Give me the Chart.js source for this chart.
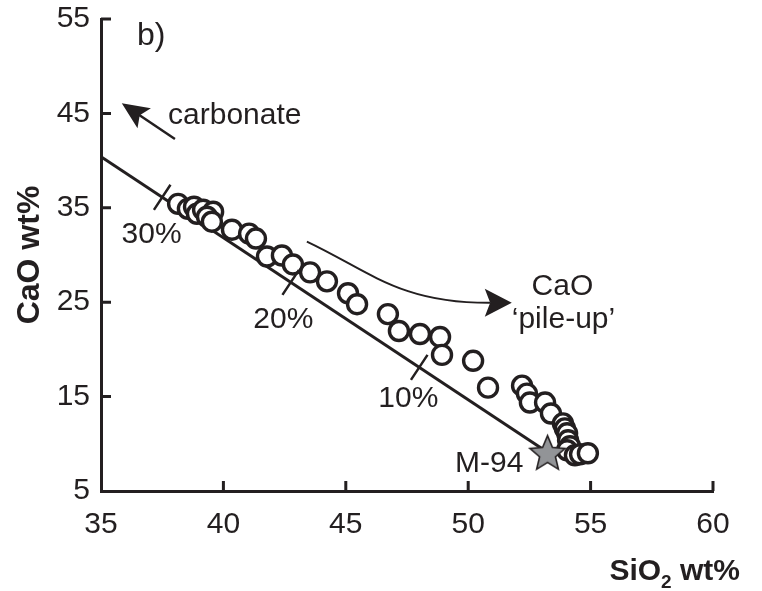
<!DOCTYPE html>
<html><head><meta charset="utf-8">
<script src="https://cdn.jsdelivr.net/npm/chart.js@4/dist/chart.umd.min.js"></script>
<style>html,body{margin:0;padding:0;background:#fff}#wrap{width:762px;height:591px}</style>
</head><body><div id="wrap"><canvas id="c" width="762" height="591"></canvas></div>
<script>
// ---- data ----
const sampleSiO2 = [38.15,38.55,38.80,38.92,39.17,39.58,39.33,39.53,40.35,41.05,41.33,41.78,42.39,42.84,43.54,44.23,45.09,45.46,46.72,47.17,48.03,48.85,48.93,50.20,50.81,52.20,52.40,52.52,53.14,53.38,53.87,53.95,54.04,54.08,54.16,54.04,54.36,54.57,54.89];
const sampleCaO  = [35.42,34.89,35.11,34.37,34.79,34.58,34.05,33.53,32.68,32.26,31.74,29.84,29.95,29.00,28.16,27.21,25.95,24.79,23.74,21.95,21.63,21.32,19.42,18.79,15.95,16.16,15.32,14.37,14.37,13.21,12.16,11.63,11.11,10.37,9.74,9.32,8.79,8.89,9.00];
const m94SiO2 = [53.24];
const m94CaO = [9.1];
const mixLineSiO2 = [35, 53.24];
const mixLineCaO = [40.4, 9.1];
const mixTickSiO2 = [37.5, 42.75, 48.0];
const mixTickLabels = ['30%', '20%', '10%'];
const xTickValues = [35, 40, 45, 50, 55, 60];
const yTickValues = [5, 15, 25, 35, 45, 55];

const INK = '#231f20';

// star point style
function makeStar(R) {
  const s = Math.ceil(R * 2 + 4);
  const cv = document.createElement('canvas');
  cv.width = s; cv.height = s;
  const c = cv.getContext('2d');
  const cx = s / 2, cy = s / 2 + R * 0.1;
  c.beginPath();
  for (let i = 0; i < 10; i++) {
    const r = i % 2 === 0 ? R : R * 0.45;
    const a = -Math.PI / 2 + i * Math.PI / 5;
    const px = cx + r * Math.cos(a), py = cy + r * Math.sin(a);
    i === 0 ? c.moveTo(px, py) : c.lineTo(px, py);
  }
  c.closePath();
  c.fillStyle = '#929497';
  c.fill();
  c.lineWidth = 1.6;
  c.strokeStyle = INK;
  c.stroke();
  return cv;
}
const starImg = makeStar(18.5);

const annotations = [
  {text: 'b)', x: 36.47, y: 52.2},
  {text: 'carbonate', x: 37.74, y: 43.87},
  {text: 'M-94', x: 49.46, y: 7.0},
  {text: 'CaO', x: 52.59, y: 25.81},
  {text: '\u2018pile-up\u2019', x: 51.78, y: 22.29}
];
const tickLabelPos = [
  {x: 35.84, y: 31.24},
  {x: 41.22, y: 22.3},
  {x: 46.33, y: 13.87}
];

function arrowHead(ctx, tipX, tipY, fromX, fromY, len, half) {
  const a = Math.atan2(tipY - fromY, tipX - fromX);
  ctx.beginPath();
  ctx.moveTo(tipX, tipY);
  ctx.lineTo(tipX - len * Math.cos(a) + half * Math.sin(a), tipY - len * Math.sin(a) - half * Math.cos(a));
  ctx.lineTo(tipX - len * 0.8 * Math.cos(a), tipY - len * 0.8 * Math.sin(a));
  ctx.lineTo(tipX - len * Math.cos(a) - half * Math.sin(a), tipY - len * Math.sin(a) + half * Math.cos(a));
  ctx.closePath();
  ctx.fill();
}

const decor = {
  id: 'decor',
  afterDatasetsDraw(chart) {
    const {ctx, chartArea, scales: {x, y}} = chart;
    const X = v => x.getPixelForValue(v), Y = v => y.getPixelForValue(v);
    ctx.save();
    ctx.strokeStyle = INK; ctx.fillStyle = INK;
    // inward axis ticks
    ctx.lineWidth = 3;
    ctx.beginPath();
    x.ticks.forEach(t => { if (t.value === x.min) return; const px = X(t.value); ctx.moveTo(px, chartArea.bottom); ctx.lineTo(px, chartArea.bottom - 10); });
    y.ticks.forEach(t => { if (t.value === y.min) return; const py = Y(t.value); ctx.moveTo(chartArea.left, py); ctx.lineTo(chartArea.left + 10, py); });
    ctx.stroke();
    // mixing-line tick marks
    const x0 = X(mixLineSiO2[0]), y0 = Y(mixLineCaO[0]), x1 = X(mixLineSiO2[1]), y1 = Y(mixLineCaO[1]);
    const dx = x1 - x0, dy = y1 - y0, L = Math.hypot(dx, dy);
    const nx = dy / L, ny = -dx / L;
    ctx.lineWidth = 2.5;
    ctx.beginPath();
    mixTickSiO2.forEach(v => {
      const t = (X(v) - x0) / dx;
      const px = x0 + dx * t, py = y0 + dy * t;
      ctx.moveTo(px - nx * 15, py - ny * 15);
      ctx.lineTo(px + nx * 15, py + ny * 15);
    });
    ctx.stroke();
    // carbonate arrow
    const tx = X(35.85), ty = Y(46.08), fx = X(38.02), fy = Y(42.29);
    ctx.lineWidth = 2.5;
    ctx.beginPath(); ctx.moveTo(fx, fy); ctx.lineTo(tx + (fx - tx) * 0.3, ty + (fy - ty) * 0.3); ctx.stroke();
    arrowHead(ctx, tx, ty, fx, fy, 27, 12);
    // pile-up curved arrow
    ctx.lineWidth = 2;
    ctx.beginPath();
    ctx.moveTo(X(43.41), Y(31.42));
    ctx.bezierCurveTo(X(45.99), Y(28.26), X(47.21), Y(24.89), X(50.89), Y(24.93));
    ctx.stroke();
    arrowHead(ctx, X(51.78), Y(24.93), X(50.5), Y(24.93), 27, 14);
    // texts
    ctx.textBaseline = 'alphabetic'; ctx.textAlign = 'left';
    annotations.forEach(a => {
      ctx.font = (a.text === 'b)' ? '32px' : '30px') + ' "Liberation Sans", Arial, sans-serif';
      ctx.fillText(a.text, X(a.x), Y(a.y));
    });
    ctx.font = '30px "Liberation Sans", Arial, sans-serif';
    mixTickLabels.forEach((s, i) => ctx.fillText(s, X(tickLabelPos[i].x), Y(tickLabelPos[i].y)));
    // x axis title with subscript
    const parts = [['SiO', 'bold 30px "Liberation Sans", Arial, sans-serif', 0], ['2', 'bold 19px "Liberation Sans", Arial, sans-serif', 8], [' wt%', 'bold 30px "Liberation Sans", Arial, sans-serif', 0]];
    let total = 0;
    parts.forEach(p => { ctx.font = p[1]; total += ctx.measureText(p[0]).width; });
    let cx = 740 - total; const base = 580;
    parts.forEach(p => { ctx.font = p[1]; ctx.fillText(p[0], cx, base + p[2]); cx += ctx.measureText(p[0]).width; });
    ctx.restore();
  }
};

const tickFont = {family: '"Liberation Sans", Arial, sans-serif', size: 30, lineHeight: 1.0};

new Chart(document.getElementById('c'), {
  type: 'scatter',
  data: {
    datasets: [
      {label: 'M-94', data: m94SiO2.map((v, i) => ({x: v, y: m94CaO[i]})), pointStyle: starImg, pointRadius: 18, order: 0},
      {label: 'Samples', data: sampleSiO2.map((v, i) => ({x: v, y: sampleCaO[i]})), pointStyle: 'circle', pointRadius: 9.5, borderWidth: 3.4, borderColor: INK, backgroundColor: '#fff', order: 1},
      {label: 'Mixing line', type: 'line', data: mixLineSiO2.map((v, i) => ({x: v, y: mixLineCaO[i]})), borderColor: INK, borderWidth: 3, pointRadius: 0, fill: false, order: 2}
    ]
  },
  options: {
    responsive: false, animation: false, devicePixelRatio: 1,
    layout: {padding: {left: 0, top: 16, right: 49, bottom: 0}},
    plugins: {legend: {display: false}, tooltip: {enabled: false}},
    events: [],
    scales: {
      x: {
        type: 'linear', min: 35, max: 60,
        afterBuildTicks: s => { s.ticks = xTickValues.map(v => ({value: v})); },
        afterFit: s => { s.height = 100; s.paddingLeft = 0; s.paddingRight = 0; },
        grid: {drawOnChartArea: false, drawTicks: false},
        border: {display: true, color: INK, width: 3},
        ticks: {color: INK, font: tickFont, padding: 19, maxRotation: 0},
        title: {display: false, text: 'SiO\u2082 wt%'}
      },
      y: {
        type: 'linear', min: 5, max: 55,
        afterBuildTicks: s => { s.ticks = yTickValues.map(v => ({value: v})); },
        afterFit: s => { s.width = 101; s.paddingTop = 0; s.paddingBottom = 0; },
        grid: {drawOnChartArea: false, drawTicks: false},
        border: {display: true, color: INK, width: 3},
        ticks: {color: INK, font: tickFont, padding: 11},
        title: {display: true, text: 'CaO wt%', color: INK, font: {family: '"Liberation Sans", Arial, sans-serif', size: 32, weight: 'bold', lineHeight: 1.2}, padding: {top: 11, bottom: 0}}
      }
    }
  },
  plugins: [decor]
});
</script></body></html>
